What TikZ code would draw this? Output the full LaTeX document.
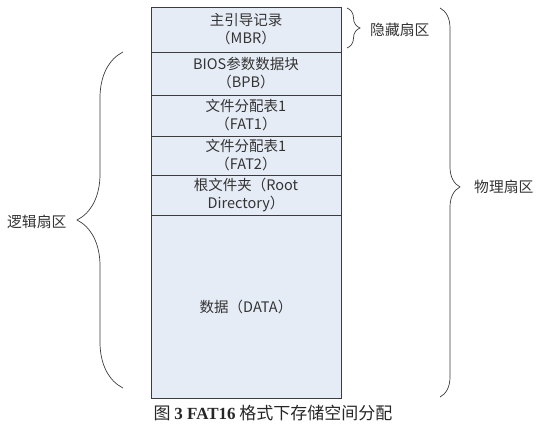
\documentclass[tikz,border=0pt]{standalone}
\usepackage{fontspec}
\setmainfont{Noto Sans CJK SC}
\newfontfamily\capfont{Liberation Serif}
\usetikzlibrary{decorations.pathreplacing}
\definecolor{cfill}{HTML}{E6ECF6}
\definecolor{cline}{HTML}{3C3C3C}
\definecolor{ctext}{HTML}{333333}

\begin{document}
\begin{tikzpicture}[x=1pt,y=-1pt,
  part/.style={draw=cline,fill=cfill,minimum width=190pt,inner sep=0pt,
    align=center,font=\fontsize{14.5}{18}\selectfont,text=ctext,line width=0.9pt},
  brc/.style={draw=cline,line width=0.7pt,decorate,
    decoration={brace,amplitude=#1}},
  lbl/.style={font=\fontsize{14.8}{16}\selectfont,text=ctext,anchor=west,inner sep=0pt}]
  \useasboundingbox (0,0) rectangle (538,428);
  % sectors of the disk
  \node[part,minimum height=45pt] (mbr) at (246,29.5) {主引导记录\\（MBR）};
  \node[part,minimum height=43pt] (bpb) at (246,73.5) {BIOS参数数据块\\（BPB）};
  \node[part,minimum height=41pt] (fat1) at (246,115.5) {文件分配表1\\（FAT1）};
  \node[part,minimum height=39pt] (fat2) at (246,155.5) {文件分配表1\\（FAT2）};
  \node[part,minimum height=40pt] (root) at (246,195) {根文件夹（Root\\Directory）};
  \node[part,minimum height=183pt] (data) at (246,306.5) {数据（DATA）};
  % braces
  \coordinate (logbot) at (123,388);
  \coordinate (logtop) at (123,52);
  \coordinate (hidtop) at (347,8);
  \coordinate (hidbot) at (347,48);
  \coordinate (phytop) at (440,8);
  \coordinate (phybot) at (440,397);
  \draw[brc=46pt] (logbot) -- (logtop);
  \draw[brc=13pt] (hidtop) -- (hidbot);
  \draw[brc=20pt,decoration={aspect=0.46}] (phytop) -- (phybot);
  \node[lbl] (logic) at (7,222) {逻辑扇区};
  \node[lbl] (hidden) at (370,30) {隐藏扇区};
  \node[lbl] (phys) at (474,187) {物理扇区};
  % caption
  \node[font=\fontsize{17}{20}\selectfont,text=black!85] (cap) at (273,413)
    {图 {\capfont\bfseries 3 FAT16} 格式下存储空间分配};
\end{tikzpicture}
\end{document}
